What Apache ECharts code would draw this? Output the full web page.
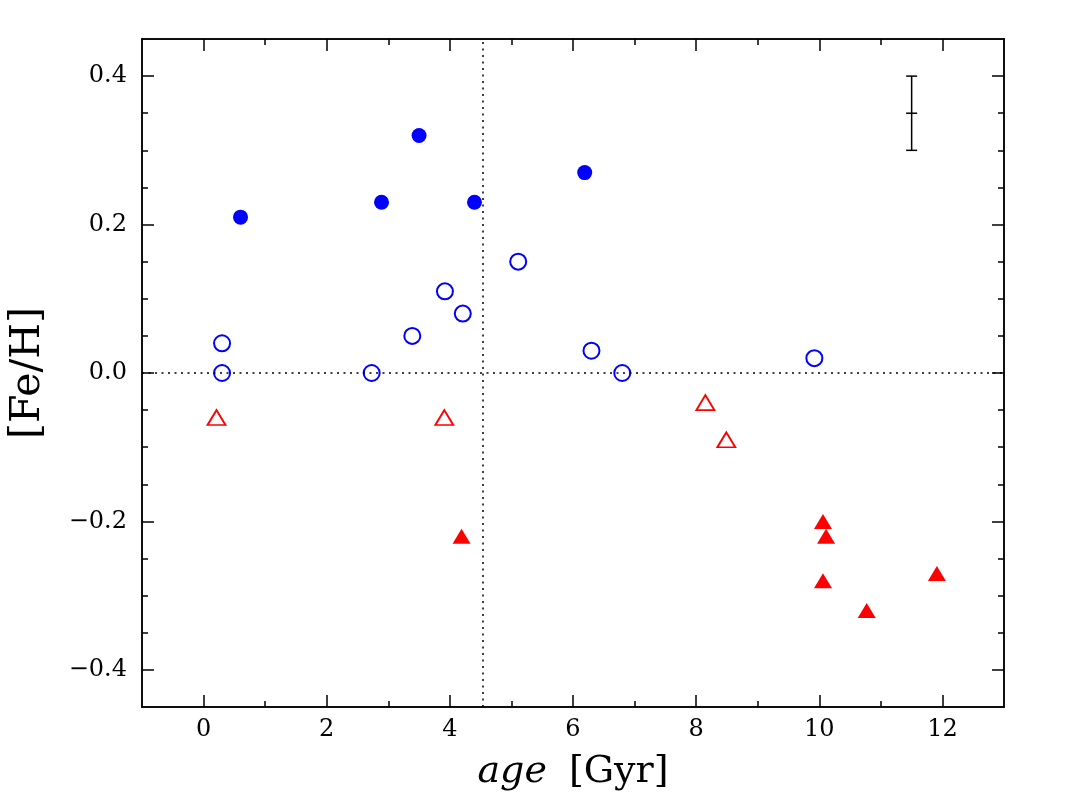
<!DOCTYPE html>
<html>
<head>
<meta charset="utf-8">
<script src="https://cdn.jsdelivr.net/npm/echarts@6/dist/echarts.min.js"></script>
<style>html,body{margin:0;padding:0;background:#fff;}#c{width:1067px;height:797px;}</style>
</head>
<body>
<div id="c"></div>
<script>
// ---- data (age [Gyr], [Fe/H]) ----
const filledCircles = [[0.60,0.21],[2.89,0.23],[3.50,0.32],[4.40,0.23],[6.19,0.27]];
const openCircles = [[0.30,0.04],[0.30,0.00],[2.73,0.00],[3.39,0.05],[3.92,0.11],[4.21,0.08],[5.11,0.15],[6.30,0.03],[6.80,0.00],[9.92,0.02]];
const openTriangles = [[0.21,-0.06],[3.91,-0.06],[8.15,-0.04],[8.49,-0.09]];
const filledTriangles = [[4.19,-0.22],[10.06,-0.20],[10.11,-0.22],[10.06,-0.28],[10.77,-0.32],[11.91,-0.27]];
const errorBar = [[11.50,0.35,0.05]];
const refAge = 4.53;
const refFeH = 0.0;
// ---- ticks ----
const xMajor = [0,2,4,6,8,10,12];
const xMinor = [1,3,5,7,9,11];
const yMajor = [-0.4,-0.2,0.0,0.2,0.4];
const yMinor = [-0.35,-0.3,-0.25,-0.15,-0.1,-0.05,0.05,0.1,0.15,0.25,0.3,0.35];
const xRange = [-1,13];
const yRange = [-0.45,0.45];

const FONT = 'DejaVu Serif';
const lineCol = '#000';

function xAx(pos, ticks, len, labels) {
  return {
    type:'value', position:pos, min:xRange[0], max:xRange[1],
    axisLine:{show:true, onZero:false, lineStyle:{color:lineCol,width:1.5}},
    axisTick:{show:true, inside:true, length:len, customValues:ticks, lineStyle:{color:lineCol,width:1.5}},
    axisLabel:{show:labels, customValues:ticks, margin:11, color:'#000', fontFamily:FONT, fontSize:24,
      formatter:v=>String(v)},
    splitLine:{show:false}
  };
}
function yAx(pos, ticks, len, labels) {
  return {
    type:'value', position:pos, min:yRange[0], max:yRange[1],
    axisLine:{show:true, onZero:false, lineStyle:{color:lineCol,width:1.5}},
    axisTick:{show:true, inside:true, length:len, customValues:ticks, lineStyle:{color:lineCol,width:1.5}},
    axisLabel:{show:labels, customValues:ticks, margin:15, color:'#000', fontFamily:FONT, fontSize:24,
      formatter:v=>(v< -1e-9?'\u2212':'')+Math.abs(v).toFixed(1)},
    splitLine:{show:false}
  };
}

const xAxes = [xAx('bottom',xMajor,12,true), xAx('bottom',xMinor,6,false), xAx('top',xMajor,12,false), xAx('top',xMinor,6,false)];
xAxes[0].name = '{i|age}{n|[Gyr]}';
xAxes[0].nameLocation = 'middle';
xAxes[0].nameGap = 46;
xAxes[0].nameTextStyle = {rich:{i:{fontFamily:FONT,fontStyle:'italic',fontSize:38,color:'#000',padding:[0,22,0,0]},n:{fontFamily:FONT,fontSize:38,color:'#000'}}};
const yAxes = [yAx('left',yMajor,12,true), yAx('left',yMinor,6,false), yAx('right',yMajor,12,false), yAx('right',yMinor,6,false)];
yAxes[0].name = '[Fe/H]';
yAxes[0].nameLocation = 'middle';
yAxes[0].nameGap = 93;
yAxes[0].nameTextStyle = {fontFamily:FONT, fontSize:41, color:'#000'};

const chart = echarts.init(document.getElementById('c'), null, {renderer:'canvas'});
chart.setOption({
  animation:false,
  backgroundColor:'#fff',
  grid:{left:141, right:63, top:39, bottom:90, containLabel:false},
  xAxis:xAxes,
  yAxis:yAxes,
  series:[
    {type:'scatter', data:[], z:1, silent:true,
      markLine:{symbol:'none', silent:true, label:{show:false},
        lineStyle:{color:'#000', width:1.5, type:[2,4.5], opacity:1},
        data:[{xAxis:refAge},{yAxis:refFeH}]}},
    {type:'custom', z:2, data:errorBar,
      renderItem:function(params, api){
        const x=api.value(0), y=api.value(1), e=api.value(2);
        const t=api.coord([x,y+e]), b=api.coord([x,y-e]), m=api.coord([x,y]);
        const hw=5.5, st={stroke:'#000', lineWidth:1.5};
        return {type:'group', children:[
          {type:'line', shape:{x1:t[0],y1:t[1],x2:b[0],y2:b[1]}, style:st},
          {type:'line', shape:{x1:t[0]-hw,y1:t[1],x2:t[0]+hw,y2:t[1]}, style:st},
          {type:'line', shape:{x1:b[0]-hw,y1:b[1],x2:b[0]+hw,y2:b[1]}, style:st},
          {type:'line', shape:{x1:m[0]-hw,y1:m[1],x2:m[0]+hw,y2:m[1]}, style:st}
        ]};
      }},
    {type:'scatter', z:3, data:openCircles, symbol:'circle', symbolSize:16,
      itemStyle:{color:'#fff', borderColor:'#0000ff', borderWidth:2, opacity:1}},
    {type:'scatter', z:3, data:filledCircles, symbol:'circle', symbolSize:15,
      itemStyle:{color:'#0000ff', opacity:1}},
    {type:'scatter', z:3, data:openTriangles, symbol:'triangle', symbolSize:[18,15],
      itemStyle:{color:'#fff', borderColor:'#ff0000', borderWidth:1.8, opacity:1}},
    {type:'scatter', z:3, data:filledTriangles, symbol:'triangle', symbolSize:[18,15],
      itemStyle:{color:'#ff0000', opacity:1}}
  ]
});
</script>
</body>
</html>
